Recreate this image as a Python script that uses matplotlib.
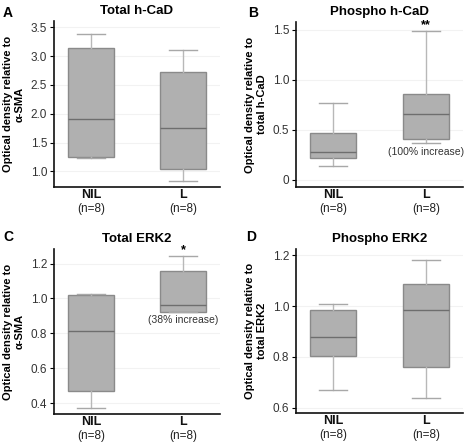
import matplotlib
matplotlib.use('Agg')
import matplotlib.pyplot as plt

plt.rcParams['font.family'] = ['Liberation Sans', 'DejaVu Sans']

groups = ['NIL', 'L']
n_labels = ['(n=8)', '(n=8)']

# box stats per panel: whisker low, q1, median, q3, whisker high
a_nil = [1.23, 1.25, 1.91, 3.15, 3.38]
a_l = [0.84, 1.04, 1.75, 2.73, 3.10]
b_nil = [0.134, 0.22, 0.277, 0.464, 0.764]
b_l = [0.364, 0.41, 0.654, 0.854, 1.49]
c_nil = [0.374, 0.471, 0.815, 1.022, 1.028]
c_l = [0.92, 0.924, 0.962, 1.156, 1.246]
d_nil = [0.669, 0.805, 0.878, 0.984, 1.008]
d_l = [0.637, 0.761, 0.984, 1.089, 1.182]

letters = ['A', 'B', 'C', 'D']
titles = ['Total h-CaD', 'Phospho h-CaD', 'Total ERK2', 'Phospho ERK2']
ylabels = ['Optical density relative to\nα-SMA',
           'Optical density relative to\ntotal h-CaD',
           'Optical density relative to\nα-SMA',
           'Optical density relative to\ntotal ERK2']
yticks = [[1.0, 1.5, 2.0, 2.5, 3.0, 3.5], [0, 0.5, 1.0, 1.5],
          [0.4, 0.6, 0.8, 1.0, 1.2], [0.6, 0.8, 1.0, 1.2]]
yticklabels = [['1.0', '1.5', '2.0', '2.5', '3.0', '3.5'], ['0', '0.5', '1.0', '1.5'],
               ['0.4', '0.6', '0.8', '1.0', '1.2'], ['0.6', '0.8', '1.0', '1.2']]
ylims = [(0.73, 3.61), (-0.073, 1.58), (0.337, 1.284), (0.579, 1.225)]
data = [(a_nil, a_l), (b_nil, b_l), (c_nil, c_l), (d_nil, d_l)]

# annotations on the L box: (star text, star y, note text, note y)
stars = ['', '**', '*', '']
star_y = [0, 1.55, 1.277, 0]
notes = ['', '(100% increase)', '(38% increase)', '']
note_y = [0, 0.28, 0.876, 0]

W, H = 467, 447
fig = plt.figure(figsize=(W / 100, H / 100), dpi=100)

# axes boxes in pixels: left, top, right, bottom
boxes = [(54, 21, 220, 187), (296, 22, 463, 187), (54, 249, 220, 414), (296, 249, 463, 413)]

for i in range(4):
    l, t, r, b = boxes[i]
    ax = fig.add_axes([l / W, 1 - b / H, (r - l) / W, (b - t) / H])
    stats = []
    for g, s in zip(groups, data[i]):
        stats.append({'whislo': s[0], 'q1': s[1], 'med': s[2], 'q3': s[3], 'whishi': s[4], 'label': g})
    ax.bxp(stats, positions=[1, 2], widths=0.5, capwidths=0.3, showfliers=False, patch_artist=True,
           boxprops=dict(facecolor='#b0b0b0', edgecolor='#8a8a8a', linewidth=1.0),
           medianprops=dict(color='#6e6e6e', linewidth=1.0),
           whiskerprops=dict(color='#b8b8b8', linewidth=1.0),
           capprops=dict(color='#a8a8a8', linewidth=1.0))
    ax.set_xlim(0.6, 2.4)
    ax.set_ylim(ylims[i])
    ax.set_yticks(yticks[i])
    ax.set_yticklabels(yticklabels[i], fontsize=8.5, color='#333333')
    ax.yaxis.grid(True, color='#f2f2f2', linewidth=0.8)
    ax.set_axisbelow(True)
    for sp in ['top', 'right']:
        ax.spines[sp].set_visible(False)
    for sp in ['left', 'bottom']:
        ax.spines[sp].set_linewidth(1.2)
        ax.spines[sp].set_color('#111111')
    ax.tick_params(axis='y', length=3, width=0.8, pad=2)
    ax.tick_params(axis='x', length=0, pad=1.5)
    ax.set_xticks([1, 2])
    ax.set_xticklabels(groups, fontsize=9, fontweight='bold', color='#111111')
    for x, n in zip([1, 2], n_labels):
        ax.text(x, -0.135, n, transform=ax.get_xaxis_transform(), ha='center', va='center',
                fontsize=8.5, color='#222222')
    ax.set_ylabel(ylabels[i], fontsize=8, fontweight='bold', linespacing=1.2)
    ax.yaxis.set_label_coords(-0.175, 0.5)
    ax.set_title(titles[i], fontsize=9.5, fontweight='bold', pad=5)
    if stars[i]:
        ax.text(2, star_y[i], stars[i], ha='center', va='center', fontsize=9, fontweight='bold')
    if notes[i]:
        ax.text(2, note_y[i], notes[i], ha='center', va='center', fontsize=7.5, color='#333333')

# panel letters
letter_pos = [(8, 13), (253, 13), (8, 237), (251, 237)]
for s, (x, y) in zip(letters, letter_pos):
    fig.text(x / W, 1 - y / H, s, ha='center', va='center', fontsize=10, fontweight='bold')

fig.savefig('out.png', dpi=100)
